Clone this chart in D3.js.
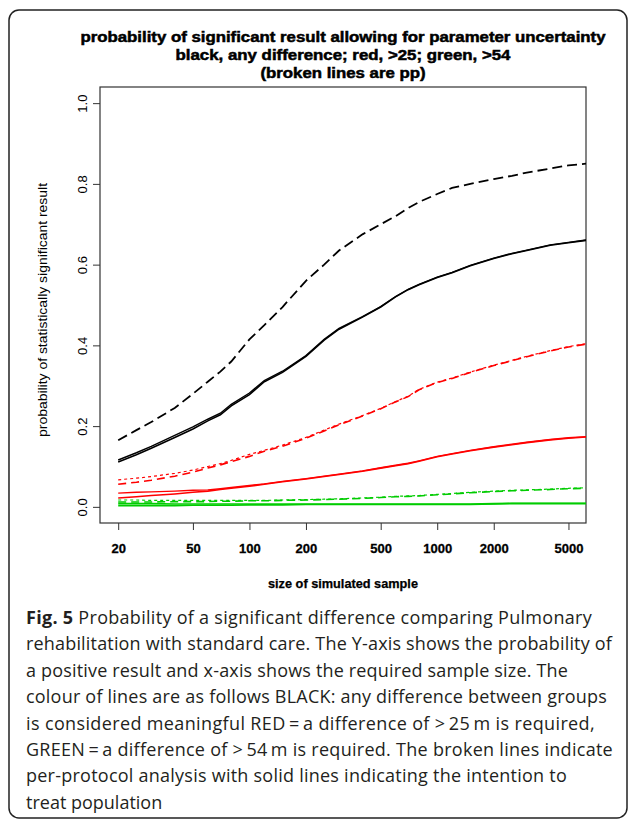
<!DOCTYPE html>
<html>
<head>
<meta charset="utf-8">
<script src="https://cdn.jsdelivr.net/npm/d3@7"></script>
<style>
    body { margin: 0; background: #fff; }
    svg { display: block; }
</style>
</head>
<body>
<svg id="chart" width="629" height="822"></svg>
<script>
// sample sizes (x) shared by every curve
const sampleSizes = [20, 25, 30, 40, 50, 60, 70, 80, 100, 120, 150, 200, 250, 300, 400, 500, 600, 700, 800, 1000, 1200, 1500, 2000, 2500, 3000, 4000, 5000, 6200];

// black: any difference
const blackPP = [0.165, 0.19, 0.21, 0.245, 0.28, 0.31, 0.335, 0.36, 0.415, 0.45, 0.495, 0.56, 0.60, 0.635, 0.675, 0.70, 0.72, 0.74, 0.755, 0.775, 0.79, 0.80, 0.812, 0.82, 0.828, 0.838, 0.846, 0.85];
const blackITT = [0.111, 0.129, 0.145, 0.172, 0.193, 0.213, 0.228, 0.25, 0.278, 0.31, 0.333, 0.373, 0.413, 0.44, 0.47, 0.495, 0.52, 0.538, 0.55, 0.568, 0.58, 0.597, 0.615, 0.627, 0.635, 0.648, 0.654, 0.66];
const blackITT2 = [0.116, 0.134, 0.15, 0.177, 0.198, 0.217, 0.232, 0.254, 0.282, 0.313, 0.336, 0.375, 0.415, 0.442, 0.471, 0.496, 0.521, 0.539, 0.551, 0.569, 0.581, 0.598, 0.616, 0.628, 0.636, 0.649, 0.655, 0.661];

// red: > 25 m
const redPP = [0.056, 0.061, 0.066, 0.076, 0.086, 0.096, 0.104, 0.112, 0.125, 0.138, 0.15, 0.17, 0.188, 0.203, 0.225, 0.243, 0.26, 0.273, 0.29, 0.308, 0.318, 0.333, 0.35, 0.362, 0.372, 0.386, 0.396, 0.403];
const redPP2 = [0.067, 0.071, 0.075, 0.083, 0.091, 0.1, 0.107, 0.115, 0.13, 0.14, 0.153, 0.172, 0.19, 0.205, 0.226, 0.244, 0.261, 0.274, 0.291, 0.309, 0.319, 0.334, 0.351, 0.363, 0.373, 0.387, 0.397, 0.404];
const redITT = [0.034, 0.036, 0.037, 0.039, 0.041, 0.042, 0.045, 0.048, 0.053, 0.057, 0.063, 0.07, 0.076, 0.081, 0.089, 0.097, 0.103, 0.108, 0.114, 0.125, 0.132, 0.14, 0.149, 0.155, 0.16, 0.167, 0.171, 0.174];
const redITT2 = [0.022, 0.025, 0.028, 0.032, 0.036, 0.039, 0.043, 0.046, 0.051, 0.056, 0.062, 0.069, 0.075, 0.08, 0.088, 0.096, 0.102, 0.107, 0.113, 0.124, 0.131, 0.139, 0.148, 0.154, 0.159, 0.166, 0.17, 0.173];

// green: > 54 m
const greenPP = [0.012, 0.012, 0.012, 0.013, 0.013, 0.013, 0.014, 0.014, 0.015, 0.015, 0.016, 0.017, 0.018, 0.019, 0.021, 0.023, 0.025, 0.026, 0.027, 0.03, 0.032, 0.035, 0.038, 0.04, 0.041, 0.043, 0.045, 0.046];
const greenPP2 = [0.017, 0.017, 0.016, 0.016, 0.016, 0.016, 0.016, 0.016, 0.016, 0.016, 0.017, 0.018, 0.019, 0.02, 0.022, 0.024, 0.026, 0.027, 0.028, 0.031, 0.033, 0.036, 0.039, 0.041, 0.042, 0.044, 0.046, 0.047];
const greenITT = [0.008, 0.008, 0.008, 0.007, 0.007, 0.007, 0.007, 0.007, 0.007, 0.007, 0.007, 0.007, 0.007, 0.007, 0.007, 0.007, 0.007, 0.007, 0.007, 0.007, 0.007, 0.007, 0.008, 0.009, 0.009, 0.009, 0.009, 0.009];
const greenITT2 = [0.003, 0.003, 0.003, 0.003, 0.004, 0.004, 0.004, 0.004, 0.005, 0.005, 0.005, 0.006, 0.006, 0.006, 0.006, 0.006, 0.006, 0.006, 0.006, 0.006, 0.006, 0.006, 0.007, 0.008, 0.008, 0.008, 0.008, 0.008];

const xTicks = [20, 50, 100, 200, 500, 1000, 2000, 5000];
const yTicks = [0, 0.2, 0.4, 0.6, 0.8, 1.0];

const titleLines = [
    "probability of significant result allowing for parameter uncertainty",
    "black, any difference; red, >25; green, >54",
    "(broken lines are pp)"
];
const titleWidths = [525, 335, 165];

const captionBold = "Fig. 5";
const captionLines = [
    " Probability of a significant difference comparing Pulmonary",
    "rehabilitation with standard care. The Y-axis shows the probability of",
    "a positive result and x-axis shows the required sample size. The",
    "colour of lines are as follows BLACK: any difference between groups",
    "is considered meaningful RED\u2009=\u2009a difference of >\u200925\u2009m is required,",
    "GREEN\u2009=\u2009a difference of >\u200954\u2009m is required. The broken lines indicate",
    "per-protocol analysis with solid lines indicating the intention to",
    "treat population"
];
const captionEnds = [592, 612, 568, 607, 595, 613, 567, 163];

const svg = d3.select('#chart');
const ctx = {
    LEFT: 100,
    RIGHT: 586,
    TOP: 87,
    BOTTOM: 523,
    TICK: 7,
    RED: "#ff0000",
    GREEN: "#00cc00",
    FONT: "'Liberation Sans', Arial, sans-serif",
    TITLE_Y: 42,
    TITLE_STEP: 18,
    CAPTION_X: 26,
    CAPTION_Y: 624,
    CAPTION_STEP: 26.4,
};

main();

function main() {
    drawFrame();
    const x = d3.scaleLog().domain([16, 6200]).range([ctx.LEFT, ctx.RIGHT]);
    const y = d3.scaleLinear().domain([-0.04, 1.04]).range([ctx.BOTTOM, ctx.TOP]);
    drawAxes(x, y);
    drawLines(x, y);
    drawTitle();
    drawCaption();
}

function drawFrame() {
    svg.append("rect")
        .attr("x", 9)
        .attr("y", 10)
        .attr("width", 618)
        .attr("height", 808)
        .attr("rx", 10)
        .attr("fill", "none")
        .attr("stroke", "#222")
        .attr("stroke-width", 1.5);
}

function drawAxes(x, y) {
    // plot box
    svg.append("rect")
        .attr("x", ctx.LEFT)
        .attr("y", ctx.TOP)
        .attr("width", ctx.RIGHT - ctx.LEFT)
        .attr("height", ctx.BOTTOM - ctx.TOP)
        .attr("fill", "none")
        .attr("stroke", "#333")
        .attr("stroke-width", 1.2);

    const xAxis = svg.append("g")
        .attr("transform", `translate(0,${ctx.BOTTOM})`)
        .call(d3.axisBottom(x).tickValues(xTicks).tickFormat(d3.format("d")).tickSize(ctx.TICK).tickSizeOuter(0));
    xAxis.select(".domain").remove();
    xAxis.selectAll("line").attr("stroke", "#333");
    xAxis.selectAll("text")
        .attr("y", 30)
        .attr("dy", null)
        .style("font-family", ctx.FONT)
        .style("font-size", "13px")
        .style("font-weight", "bold")
        .attr("fill", "#000")
        .attr("stroke", "#000")
        .attr("stroke-width", 0.3);

    const yAxis = svg.append("g")
        .attr("transform", `translate(${ctx.LEFT},0)`)
        .call(d3.axisLeft(y).tickValues(yTicks).tickFormat(d3.format(".1f")).tickSize(ctx.TICK).tickSizeOuter(0));
    yAxis.select(".domain").remove();
    yAxis.selectAll("line").attr("stroke", "#333");
    yAxis.selectAll("text")
        .attr("x", null)
        .attr("dy", null)
        .attr("text-anchor", "middle")
        .attr("transform", "translate(-13,0) rotate(-90)")
        .style("font-family", ctx.FONT)
        .style("font-size", "13px")
        .attr("fill", "#000");

    // axis titles
    svg.append("text")
        .attr("x", (ctx.LEFT + ctx.RIGHT) / 2)
        .attr("y", 588)
        .attr("text-anchor", "middle")
        .attr("textLength", 150)
        .attr("lengthAdjust", "spacingAndGlyphs")
        .style("font-family", ctx.FONT)
        .style("font-size", "12px")
        .style("font-weight", "bold")
        .attr("stroke", "#000")
        .attr("stroke-width", 0.25)
        .text("size of simulated sample");

    svg.append("text")
        .attr("transform", `translate(47,${(ctx.TOP + ctx.BOTTOM) / 2 + 5}) rotate(-90)`)
        .attr("text-anchor", "middle")
        .attr("textLength", 254)
        .attr("lengthAdjust", "spacingAndGlyphs")
        .style("font-family", ctx.FONT)
        .style("font-size", "13px")
        .text("probability of statistically significant result");
}

function drawLines(x, y) {
    const series = [
        { values: greenITT2, color: ctx.GREEN, dash: null, width: 1.6 },
        { values: greenITT, color: ctx.GREEN, dash: null, width: 1.6 },
        { values: greenPP, color: ctx.GREEN, dash: "8,5", width: 1.6 },
        { values: greenPP2, color: ctx.GREEN, dash: "3,3", width: 1.2 },
        { values: redITT2, color: ctx.RED, dash: null, width: 1.6 },
        { values: redITT, color: ctx.RED, dash: null, width: 1.4 },
        { values: redPP, color: ctx.RED, dash: "8,5", width: 1.6 },
        { values: redPP2, color: ctx.RED, dash: "3,3", width: 1.2 },
        { values: blackITT, color: "#000", dash: null, width: 1.6 },
        { values: blackITT2, color: "#000", dash: null, width: 1.4 },
        { values: blackPP, color: "#000", dash: "10,5", width: 1.8 },
    ];

    const line = d3.line()
        .x(d => x(d[0]))
        .y(d => y(d[1]));

    svg.append("g")
        .selectAll("path")
        .data(series)
        .enter()
        .append("path")
        .attr("d", s => line(sampleSizes.map((n, i) => [n, s.values[i]])))
        .attr("fill", "none")
        .attr("stroke", s => s.color)
        .attr("stroke-width", s => s.width)
        .attr("stroke-dasharray", s => s.dash);
}

function drawTitle() {
    titleLines.forEach((t, i) => {
        svg.append("text")
            .attr("x", (ctx.LEFT + ctx.RIGHT) / 2)
            .attr("y", ctx.TITLE_Y + i * ctx.TITLE_STEP)
            .attr("text-anchor", "middle")
            .attr("textLength", titleWidths[i])
            .attr("lengthAdjust", "spacingAndGlyphs")
            .style("font-family", ctx.FONT)
            .style("font-size", "14.5px")
            .style("font-weight", "bold")
            .attr("stroke", "#000")
            .attr("stroke-width", 0.5)
            .text(t);
    });
}

function drawCaption() {
    captionLines.forEach((t, i) => {
        const text = svg.append("text")
            .attr("x", ctx.CAPTION_X)
            .attr("y", ctx.CAPTION_Y + i * ctx.CAPTION_STEP)
            .style("font-family", "'Open Sans', sans-serif")
            .style("font-size", "18px")
            .attr("fill", "#231f20");
        if (i === 0) {
            text.append("tspan").style("font-weight", "bold").text(captionBold);
        }
        text.append("tspan").text(t);

        // spread the difference over the letters so each line ends where it does in the figure
        const len = text.node().getComputedTextLength();
        const chars = t.length + (i === 0 ? captionBold.length : 0);
        const extra = captionEnds[i] - ctx.CAPTION_X - len;
        if (i < captionLines.length - 1) {
            text.style("letter-spacing", `${extra / chars}px`);
        }
    });
}
</script>
</body>
</html>
